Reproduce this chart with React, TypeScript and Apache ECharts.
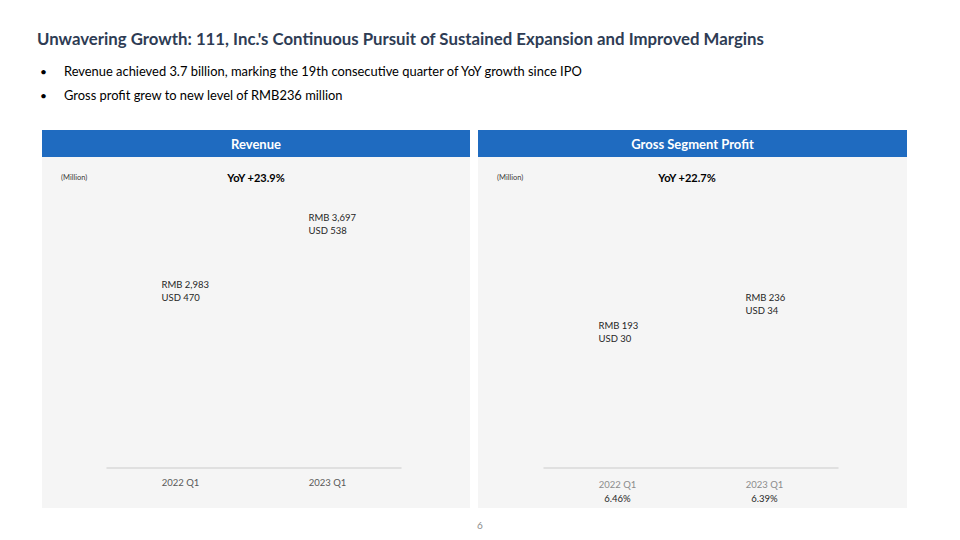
import React, { useEffect, useRef } from "react";
import * as echarts from "echarts";

const categories = ["2022 Q1", "2023 Q1"];
const revenueRMB = [2983, 3697];
const revenueUSD = [470, 538];
const profitRMB = [193, 236];
const profitUSD = [30, 34];
const margins = ["6.46%", "6.39%"];
const titleText = "Unwavering Growth: 111, Inc.'s Continuous Pursuit of Sustained Expansion and Improved Margins";
const bullets = [
  "Revenue achieved 3.7 billion, marking the 19th consecutive quarter of YoY growth since IPO",
  "Gross profit grew to new level of RMB236 million",
];
const panelTitles = ["Revenue", "Gross Segment Profit"];
const yoyTexts = ["YoY +23.9%", "YoY +22.7%"];

const FONT = "Lato, 'Open Sans', sans-serif";

export default function App() {
  const ref = useRef<HTMLDivElement>(null);
  useEffect(() => {
    if (!ref.current) return;
    const chart = echarts.init(ref.current, undefined, { renderer: "svg" });
    const fmt = (rmb: number[], usd: number[]) => (p: any) => {
      const i = p.dataIndex;
      return "RMB " + rmb[i].toLocaleString("en-US") + "\nUSD " + usd[i];
    };
    const labelStyle = {
      show: true,
      position: "top",
      align: "left",
      offset: [-19, 8],
      color: "#262626",
      fontSize: 9.5,
      lineHeight: 13,
      fontFamily: FONT,
    };
    const panels = [
      { x: 42, w: 428 },
      { x: 478, w: 429 },
    ];
    const graphic: any[] = [];
    graphic.push({
      type: "text",
      left: 37,
      top: 30,
      style: { text: titleText, fill: "#2e3c54", font: "bold 16.8px " + FONT },
    });
    bullets.forEach((b, i) => {
      const y = 64 + i * 24;
      graphic.push({ type: "text", left: 40, top: y + 1, style: { text: "•", fill: "#000", font: "12px " + FONT } });
      graphic.push({ type: "text", left: 64, top: y, style: { text: b, fill: "#000", font: "12.9px " + FONT } });
    });
    panels.forEach((pn, i) => {
      graphic.push({ type: "rect", shape: { x: pn.x, y: 157, width: pn.w, height: 351 }, style: { fill: "#f5f5f5" }, z: -10 });
      graphic.push({ type: "rect", shape: { x: pn.x, y: 130, width: pn.w, height: 27 }, style: { fill: "#1f6bc0" }, z: -10 });
      graphic.push({
        type: "text",
        x: pn.x + pn.w / 2,
        y: 143.5,
        style: { text: panelTitles[i], fill: "#fff", font: "bold 13px " + FONT, align: "center", verticalAlign: "middle" },
      });
      graphic.push({
        type: "text",
        x: pn.x + 19,
        y: 177,
        style: { text: "(Million)", fill: "#404040", font: "7.5px " + FONT, verticalAlign: "middle" },
      });
      graphic.push({
        type: "text",
        x: pn.x + (i === 0 ? 214 : 209),
        y: 177,
        style: { text: yoyTexts[i], fill: "#000", font: "bold 11px " + FONT, align: "center", verticalAlign: "middle" },
      });
    });
    graphic.push({
      type: "text",
      x: 480,
      y: 525,
      style: { text: "6", fill: "#8c8c8c", font: "10px " + FONT, align: "center", verticalAlign: "middle" },
    });

    const axisCommon = {
      type: "category",
      data: categories,
      axisTick: { show: false },
      axisLine: { lineStyle: { color: "#d9d9d9", width: 1.5 } },
    };
    chart.setOption({
      animation: false,
      graphic,
      grid: [
        { left: 107, right: 559, top: 112, bottom: 72 },
        { left: 544, right: 122, top: 240, bottom: 72 },
      ],
      xAxis: [
        {
          ...axisCommon,
          gridIndex: 0,
          axisLabel: { color: "#595959", fontSize: 9.5, fontFamily: FONT, margin: 9 },
        },
        {
          ...axisCommon,
          gridIndex: 1,
          axisLabel: {
            margin: 9,
            formatter: (v: string, idx: number) => v + "\n{m|" + margins[idx] + "}",
            color: "#8c8c8c",
            fontSize: 9.5,
            fontFamily: FONT,
            lineHeight: 14,
            rich: { m: { color: "#262626", fontSize: 9.5, fontFamily: FONT, lineHeight: 14 } },
          },
        },
      ],
      yAxis: [
        { type: "value", gridIndex: 0, min: 1200, max: 5000, show: false },
        { type: "value", gridIndex: 1, min: 0, max: 350, show: false },
      ],
      series: [
        {
          type: "bar",
          xAxisIndex: 0,
          yAxisIndex: 0,
          data: revenueRMB,
          barWidth: "50%",
          itemStyle: { color: "rgba(0,0,0,0)" },
          label: { ...labelStyle, formatter: fmt(revenueRMB, revenueUSD) },
        },
        {
          type: "bar",
          xAxisIndex: 1,
          yAxisIndex: 1,
          data: profitRMB,
          barWidth: "50%",
          itemStyle: { color: "rgba(0,0,0,0)" },
          label: { ...labelStyle, formatter: fmt(profitRMB, profitUSD) },
        },
      ],
    });
    return () => chart.dispose();
  }, []);
  return <div ref={ref} style={{ position: "fixed", left: 0, top: 0, width: 960, height: 540, background: "#fff" }} />;
}
